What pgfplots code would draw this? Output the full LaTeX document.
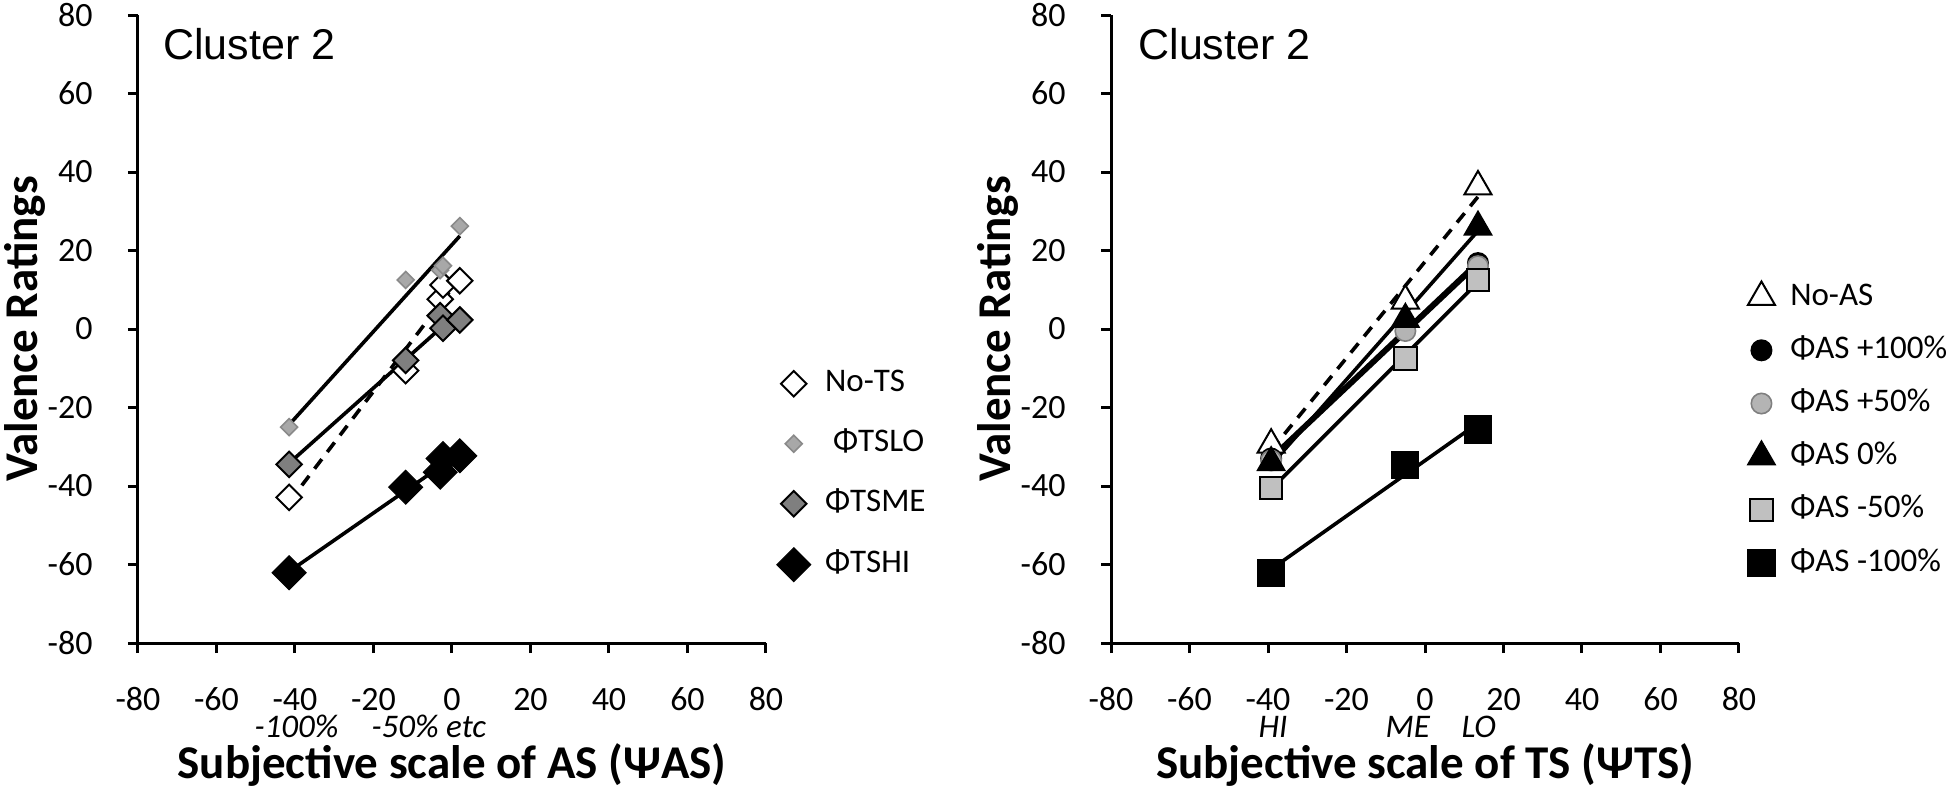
\documentclass[border=0pt]{standalone}
\usepackage{fontspec}
\setmainfont{Carlito}
\newfontfamily\arialf{Liberation Sans}
\usepackage{pgfplots}
\pgfplotsset{compat=1.18}
\definecolor{ltgray}{HTML}{A8A8A8}
\definecolor{ltedge}{HTML}{8A8A8A}
\definecolor{dkgray}{HTML}{7F7F7F}
\definecolor{sqgray}{HTML}{C0C0C0}
\definecolor{cigray}{HTML}{B4B4B4}
\tikzset{
  lab/.style={anchor=base, inner sep=0pt, font=\itshape\fontsize{16.5}{20}\selectfont, yshift=-47pt},
  clu/.style={anchor=base west, inner sep=0pt, font=\arialf\fontsize{21.5}{25}\selectfont, yshift=-22pt},
}
\pgfplotsset{
  myaxis/.style={
    width=314pt, height=314pt, scale only axis,
    xmin=-80, xmax=80, ymin=-80, ymax=80,
    xtick={-80,-60,...,80}, ytick={-80,-60,...,80},
    axis x line*=bottom, axis y line*=left,
    axis line style={line width=1.5pt},
    tick align=outside, major tick length=5pt,
    tick style={line width=1.5pt, black},
    /pgf/number format/assume math mode=true,
    ticklabel style={font=\fontsize{17}{20}\selectfont},
    xticklabel style={anchor=base, yshift=-28.5pt, inner sep=0pt},
    yticklabel style={anchor=east, xshift=-17.5pt, inner sep=0pt},
    ylabel style={at={(axis description cs:-0.1805,0.5)}, anchor=center, font=\bfseries\fontsize{23.5}{28}\selectfont},
    xlabel style={at={(axis description cs:0.5,-0.215)}, anchor=base, font=\bfseries\fontsize{23.5}{28}\selectfont},
    clip=false,
    legend cell align=left,
  },
  reg/.style={black, line width=1.8pt, no marks, forget plot},
}
\begin{document}
\begin{tikzpicture}
\useasboundingbox (0,0) rectangle (975pt,394pt);
% ---------------- Left panel ----------------
\begin{axis}[myaxis, at={(69pt,72.5pt)}, anchor=south west,
  xlabel={Subjective scale of AS (ΨAS)}, ylabel={Valence Ratings},
  legend style={draw=none, fill=none, at={(1.0166,0.268)}, anchor=west,
    inner xsep=0pt, inner ysep=0pt,
    font=\fontsize{16.5}{20}\selectfont, row sep=14pt, column sep=7.2pt,
    nodes={inner sep=0pt, text height=12pt, text depth=4pt}},
]
\addplot[only marks, mark=square*, mark size=4.5pt, mark options={rotate=45, fill=white, draw=black, line width=1pt}]
  coordinates {(-41.5,-42.9) (-11.8,-10.6) (-3.0,7.6) (-2.3,11.2) (2.0,12.3)};
\addlegendentry{No-TS}
\addplot[only marks, mark=square*, mark size=3.0pt, mark options={rotate=45, fill=ltgray, draw=ltedge, line width=0.8pt}]
  coordinates {(-41.5,-25.0) (-11.8,12.5) (-3.0,15.0) (-2.3,16.1) (2.0,26.2)};
\addlegendentry{\hspace{4pt}ΦTSLO}
\addplot[only marks, mark=square*, mark size=4.5pt, mark options={rotate=45, fill=dkgray, draw=black, line width=1pt}]
  coordinates {(-41.5,-34.5) (-11.8,-8.0) (-3.0,3.4) (-2.3,0.2) (2.0,2.3)};
\addlegendentry{ΦTSME}
\addplot[only marks, mark=square*, mark size=6.0pt, mark options={rotate=45, fill=black, draw=black, line width=0.5pt}]
  coordinates {(-41.5,-62.1) (-11.8,-40.3) (-3.0,-36.5) (-2.3,-33.0) (2.0,-32.3)};
\addlegendentry{ΦTSHI}
\addplot[reg, dash pattern=on 6pt off 4.5pt] coordinates {(-41.5,-44.1) (2.0,13.0)};
\addplot[reg] coordinates {(-41.5,-24.4) (2.0,23.7)};
\addplot[reg] coordinates {(-41.5,-34.2) (2.0,4.6)};
\addplot[reg] coordinates {(-41.5,-61.8) (2.0,-31.6)};
\node[clu, xshift=12.5pt] at (rel axis cs:0,1) {Cluster 2};
\node[lab] at (axis cs:-39.6,-80) {-100\%};
\node[lab] at (axis cs:-5.9,-80) {-50\% etc};
\end{axis}
% ---------------- Right panel ----------------
\begin{axis}[myaxis, at={(555.5pt,72.5pt)}, anchor=south west,
  xlabel={Subjective scale of TS (ΨTS)}, ylabel={Valence Ratings},
  legend style={draw=none, fill=none, at={(1.0135,0.339)}, anchor=west,
    inner xsep=0pt, inner ysep=0pt,
    font=\fontsize{16.5}{20}\selectfont, row sep=10.6pt, column sep=7.6pt,
    nodes={inner sep=0pt, text height=12pt, text depth=4pt}},
]
\addplot[only marks, mark=triangle*, mark size=7.8pt, mark options={fill=white, draw=black, line width=1pt}]
  coordinates {(-39.2,-29.5) (-5.0,7.2) (13.5,36.3)};
\addlegendentry{No-AS}
\addplot[only marks, mark=*, mark size=5.1pt, mark options={fill=black, draw=black, line width=0.8pt}]
  coordinates {(-39.2,-33.0) (-5.0,1.0) (13.5,16.8)};
\addlegendentry{ΦAS +100\%}
\addplot[only marks, mark=*, mark size=5.1pt, mark options={fill=cigray, draw=dkgray, line width=0.8pt}]
  coordinates {(-39.2,-33.5) (-5.0,-0.5) (13.5,16.0)};
\addlegendentry{ΦAS +50\%}
\addplot[only marks, mark=triangle*, mark size=7.8pt, mark options={fill=black, draw=black, line width=0.8pt}]
  coordinates {(-39.2,-34.0) (-5.0,2.5) (13.5,26.0)};
\addlegendentry{ΦAS 0\%}
\addplot[only marks, mark=square*, mark size=5.6pt, mark options={fill=sqgray, draw=black, line width=1pt}]
  coordinates {(-39.2,-40.5) (-5.0,-7.5) (13.5,12.5)};
\addlegendentry{ΦAS -50\%}
\addplot[only marks, mark=square*, mark size=6.8pt, mark options={fill=black, draw=black, line width=0.5pt}]
  coordinates {(-39.2,-62.1) (-5.0,-34.6) (13.5,-25.6)};
\addlegendentry{ΦAS -100\%}
\addplot[reg, dash pattern=on 6pt off 4.5pt] coordinates {(-39.2,-30.9) (13.5,33.7)};
\addplot[reg] coordinates {(-39.2,-32.6) (13.5,17.3)};
\addplot[reg] coordinates {(-39.2,-33.3) (13.5,16.4)};
\addplot[reg] coordinates {(-39.2,-34.6) (13.5,25.0)};
\addplot[reg] coordinates {(-39.2,-40.8) (13.5,11.9)};
\addplot[reg] coordinates {(-39.2,-61.2) (13.5,-24.0)};
\node[clu, xshift=13.5pt] at (rel axis cs:0,1) {Cluster 2};
\node[lab] at (axis cs:-38.7,-80) {HI};
\node[lab] at (axis cs:-4.4,-80) {ME};
\node[lab] at (axis cs:13.7,-80) {LO};
\end{axis}
\end{tikzpicture}
\end{document}
